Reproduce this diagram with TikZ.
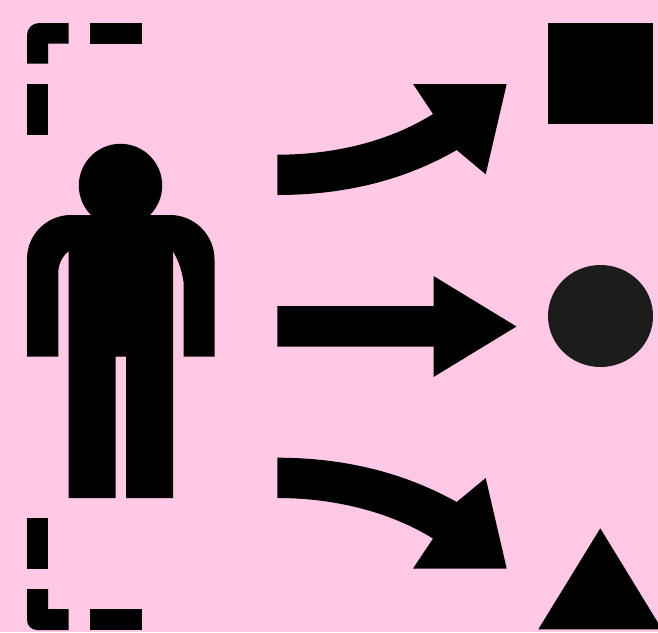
\documentclass[tikz,border=0pt]{standalone}
\usepackage{xcolor}
\usetikzlibrary{positioning}
\definecolor{bgpink}{HTML}{FFC9E6}
\definecolor{disc}{HTML}{1C1C1C}
\begin{document}
\begin{tikzpicture}[
        x=1pt, y=-1pt,
        solid shape/.style={fill=black, draw=none},
    ]
        \fill[bgpink] (0,0) rectangle (658,632);
        \useasboundingbox (0,0) rectangle (658,632);

        % dashed frame
        \fill[solid shape] (27,63.5) -- (27,35) arc[start angle=180, end angle=270, radius=12] -- (68.5,23) -- (68.5,43.5) -- (48,43.5) -- (48,63.5) -- cycle;
        \fill[solid shape] (89.5,23) rectangle (141.5,43.5);
        \fill[solid shape] (27,84) rectangle (48,134.5);
        \fill[solid shape] (27,518) rectangle (48,569);
        \fill[solid shape] (27,589) -- (48,589) -- (48,609) -- (68.5,609) -- (68.5,630) -- (37,630) arc[start angle=90, end angle=180, radius=10] -- cycle;
        \fill[solid shape] (89.5,609) rectangle (141.5,630);

        % person
        \fill[solid shape] (120.5,185.5) circle[radius=41.7];
        \fill[solid shape] (27,356.5) -- (27,259) arc[start angle=180, end angle=270, radius=44] -- (170,215) arc[start angle=270, end angle=360, radius=44.5] -- (214.5,356.5) -- (183.5,356.5) -- (183.5,282) .. controls (182,270) and (178,260) .. (173,251) -- (173,498) -- (126,498) -- (126,356.5) -- (115.5,356.5) -- (115.5,498) -- (68.5,498) -- (68.5,251) .. controls (62,257) and (58.3,264) .. (58.3,273) -- (58.3,356.5) -- cycle;

        % arrows
        \fill[solid shape] (277.3,154.7) .. controls (335,154.7) and (390,141) .. (433,114) -- (413,84) -- (506.7,84) -- (485.7,174.3) -- (456.7,150) .. controls (405,180) and (345,195) .. (277.3,195) -- cycle;
        \fill[solid shape] (277.3,306) -- (433.5,306) -- (433.5,276) -- (516.5,326.5) -- (433.5,377) -- (433.5,346.5) -- (277.3,346.5) -- cycle;
        \fill[solid shape] (277.3,457.7) .. controls (345,457.7) and (405,473) .. (456.7,502) -- (485.7,478) -- (506.7,568.5) -- (413,568.5) -- (433,538.5) .. controls (390,512) and (335,498) .. (277.3,498) -- cycle;

        % targets
        \fill[solid shape] (548,23) rectangle (653,124);
        \fill[disc] (600.5,316) ellipse[x radius=52.5, y radius=51];
        \fill[solid shape] (600.3,528.3) -- (662,629.3) -- (538.3,629.3) -- cycle;
    \end{tikzpicture}
\end{document}
